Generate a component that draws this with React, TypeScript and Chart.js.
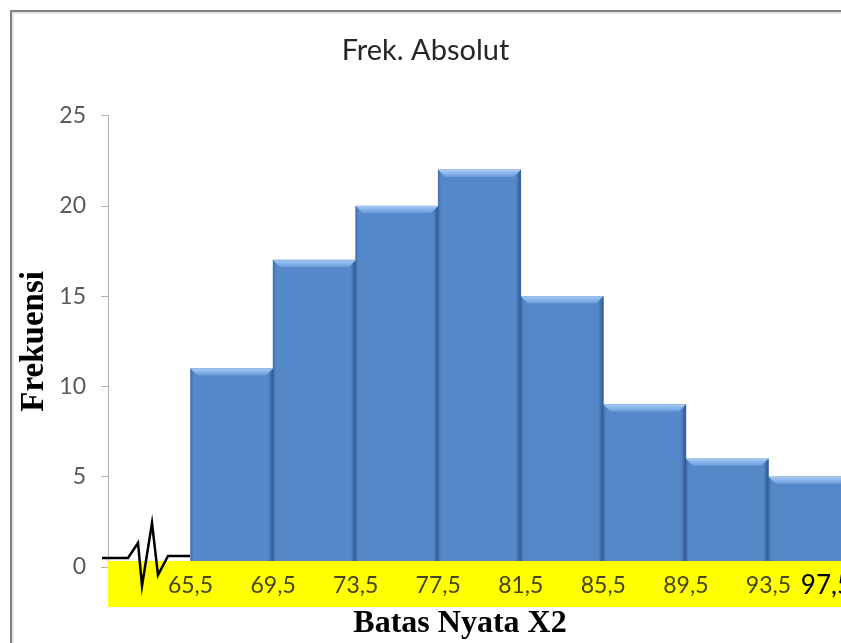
import React, { useEffect, useRef } from "react";
import { Chart, registerables } from "chart.js";

Chart.register(...registerables);

// Class boundaries (tick labels) and class marks with their absolute frequencies
const boundaryValues = [65.5, 69.5, 73.5, 77.5, 81.5, 85.5, 89.5, 93.5, 97.5];
const boundaryLabels = ["65,5", "69,5", "73,5", "77,5", "81,5", "85,5", "89,5", "93,5", "97,5"];
const classMarks = [67.5, 71.5, 75.5, 79.5, 83.5, 87.5, 91.5, 95.5];
const frequencies = [11, 17, 20, 22, 15, 9, 6, 5];
const yMax = 25;
const yStep = 5;

const chartTitle = "Frek. Absolut";
const xTitle = "Batas Nyata X2";
const yTitle = "Frekuensi";

const BAR_BLUE = "#5588c9";

// Outer frame of the chart object
const framePlugin = {
  id: "frame",
  beforeDraw(chart: any) {
    const { ctx, width, height } = chart;
    ctx.save();
    ctx.fillStyle = "#ffffff";
    ctx.fillRect(0, 0, width, height);
    ctx.strokeStyle = "#e6e6e6";
    ctx.lineWidth = 2;
    ctx.beginPath();
    ctx.moveTo(13, height);
    ctx.lineTo(13, 13);
    ctx.lineTo(width, 13);
    ctx.stroke();
    ctx.strokeStyle = "#808080";
    ctx.lineWidth = 2;
    ctx.beginPath();
    ctx.moveTo(11, height);
    ctx.lineTo(11, 11);
    ctx.lineTo(width, 11);
    ctx.stroke();
    ctx.restore();
  },
};

// Bevel shading on each bar, the yellow label strip and the axis break
const decorPlugin = {
  id: "decor",
  afterDatasetsDraw(chart: any) {
    const { ctx, chartArea, scales, width } = chart;
    const meta = chart.getDatasetMeta(0);
    ctx.save();
    meta.data.forEach((bar: any) => {
      const half = bar.width / 2;
      const left = bar.x - half;
      const right = bar.x + half;
      const top = bar.y;
      const base = bar.base;
      const bw = 7;
      // top bevel
      const g = ctx.createLinearGradient(0, top, 0, top + bw);
      g.addColorStop(0, "#a8cdf6");
      g.addColorStop(0.5, "#86b3ea");
      g.addColorStop(1, "#6a9bdb");
      ctx.fillStyle = g;
      ctx.beginPath();
      ctx.moveTo(left, top);
      ctx.lineTo(right, top);
      ctx.lineTo(right - bw, top + bw);
      ctx.lineTo(left + bw, top + bw);
      ctx.closePath();
      ctx.fill();
      // right side shade
      const gr = ctx.createLinearGradient(right - 5, 0, right, 0);
      gr.addColorStop(0, "rgba(40,80,140,0)");
      gr.addColorStop(1, "rgba(35,70,125,0.8)");
      ctx.fillStyle = gr;
      ctx.beginPath();
      ctx.moveTo(right, top);
      ctx.lineTo(right, base);
      ctx.lineTo(right - 5, base);
      ctx.lineTo(right - 5, top + 5);
      ctx.closePath();
      ctx.fill();
      // left side shade
      const gl = ctx.createLinearGradient(left, 0, left + 3, 0);
      gl.addColorStop(0, "rgba(50,90,150,0.6)");
      gl.addColorStop(1, "rgba(50,90,150,0)");
      ctx.fillStyle = gl;
      ctx.beginPath();
      ctx.moveTo(left, top);
      ctx.lineTo(left + 3, top + 3);
      ctx.lineTo(left + 3, base);
      ctx.lineTo(left, base);
      ctx.closePath();
      ctx.fill();
    });

    const y0 = scales.y.getPixelForValue(0);
    // yellow label strip
    ctx.fillStyle = "#ffff00";
    ctx.fillRect(chartArea.left, y0 - 6, width - chartArea.left, 46);

    // axis break symbol
    const L = chartArea.left;
    const pts = [
      [-6, -9], [20, -9], [30, -24], [34, 19], [44, -44], [50, 8], [60, -11], [82, -11],
    ];
    ctx.strokeStyle = "#000000";
    ctx.lineWidth = 2.5;
    ctx.lineJoin = "miter";
    ctx.beginPath();
    pts.forEach(([dx, dy], i) => {
      if (i === 0) ctx.moveTo(L + dx, y0 + dy);
      else ctx.lineTo(L + dx, y0 + dy);
    });
    ctx.stroke();
    ctx.restore();
  },
  // boundary labels inside the strip, last one kept inside the plot edge, then the x title
  afterDraw(chart: any) {
    const { ctx, scales } = chart;
    const xs = scales.x;
    const y0 = scales.y.getPixelForValue(0);
    ctx.save();
    ctx.textBaseline = "middle";
    boundaryValues.forEach((v, i) => {
      const px = xs.getPixelForValue(v);
      const last = i === boundaryValues.length - 1;
      ctx.font = last ? '26px "Lato"' : '23px "Lato"';
      ctx.fillStyle = last ? "#000000" : "#45451c";
      ctx.textAlign = last ? "right" : "center";
      ctx.fillText(boundaryLabels[i], last ? px + 1 : px, y0 + 19);
    });
    ctx.fillStyle = "#000000";
    ctx.font = 'bold 32px "Liberation Serif"';
    ctx.textAlign = "center";
    ctx.fillText(xTitle, 460, 624);
    ctx.restore();
  },
};

export default function App() {
  const canvasRef = useRef<HTMLCanvasElement | null>(null);

  useEffect(() => {
    const canvas = canvasRef.current;
    if (!canvas) return;
    const chart = new Chart(canvas, {
      type: "bar",
      data: {
        datasets: [
          {
            data: classMarks.map((x, i) => ({ x, y: frequencies[i] })),
            backgroundColor: BAR_BLUE,
            borderWidth: 0,
            barPercentage: 1,
            categoryPercentage: 1,
          },
        ],
      },
      options: {
        responsive: false,
        animation: false,
        devicePixelRatio: 1,
        layout: { padding: { left: 0, right: 29, top: 0, bottom: 0 } },
        plugins: {
          legend: { display: false },
          tooltip: { enabled: false },
          title: {
            display: true,
            text: chartTitle,
            color: "#262626",
            font: { family: "Lato", size: 29, weight: "normal" },
            padding: { top: 33, bottom: 48 },
          },
        },
        scales: {
          x: {
            type: "linear",
            min: 61.5,
            max: 97.5,
            offset: false,
            grid: { display: false, drawTicks: false },
            border: { display: false },
            afterBuildTicks: (scale: any) => {
              scale.ticks = boundaryValues.map((v) => ({ value: v }));
            },
            afterFit: (scale: any) => {
              scale.height = 76;
            },
            ticks: { display: false },
          },
          y: {
            min: 0,
            max: yMax,
            ticks: {
              stepSize: yStep,
              padding: 15,
              color: "#595959",
              font: { family: "Lato", size: 23 },
            },
            grid: {
              drawOnChartArea: false,
              drawTicks: true,
              tickLength: 7,
              color: "#b3b3b3",
            },
            border: { display: true, color: "#b3b3b3", width: 1 },
            title: {
              display: true,
              text: yTitle,
              color: "#000000",
              font: { family: "Liberation Serif", size: 33, weight: "bold" },
              padding: { top: 15, bottom: 0 },
            },
            afterFit: (scale: any) => {
              scale.width = 108;
            },
          },
        },
      },
      plugins: [framePlugin, decorPlugin],
    });
    return () => chart.destroy();
  }, []);

  return (
    <div
      style={{
        position: "fixed",
        left: 0,
        top: 0,
        width: 841,
        height: 643,
        overflow: "hidden",
        background: "#ffffff",
      }}
    >
      <canvas ref={canvasRef} width={880} height={643} style={{ display: "block" }} />
    </div>
  );
}
